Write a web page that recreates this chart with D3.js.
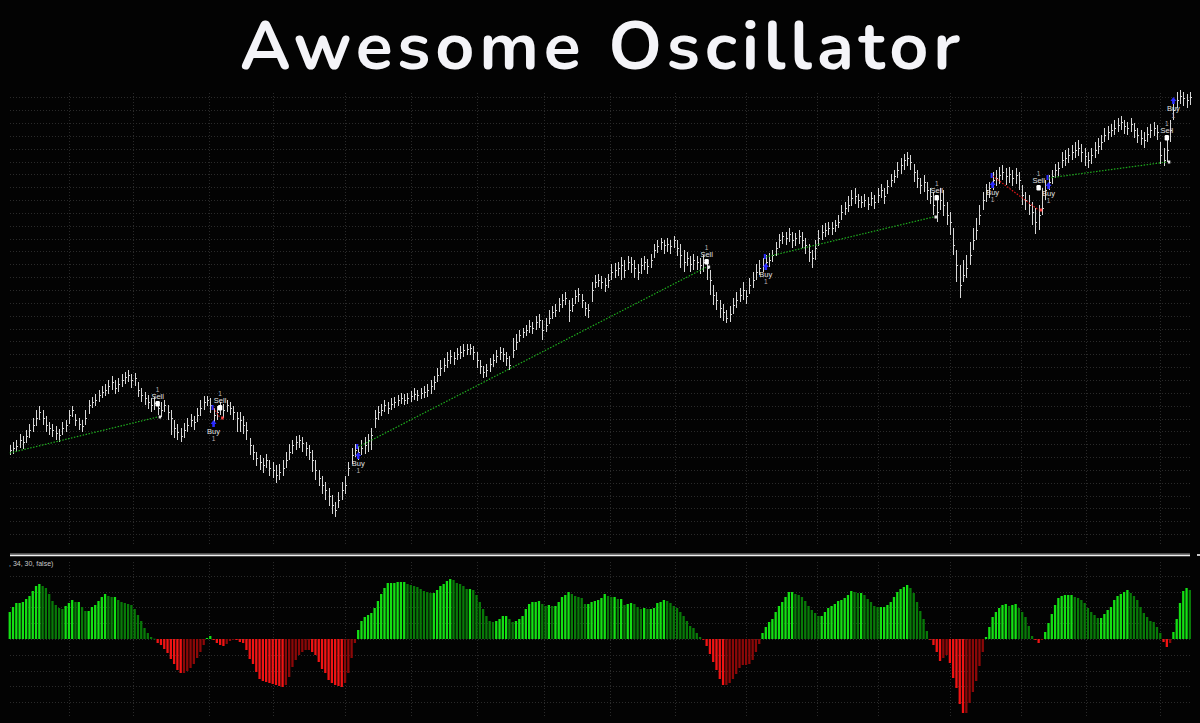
<!DOCTYPE html>
<html><head><meta charset="utf-8">
<script src="https://cdn.jsdelivr.net/npm/d3@7"></script>
<style>html,body{margin:0;background:#030303;overflow:hidden}svg{display:block}</style>
</head><body><svg id="c" width="1200" height="723"></svg>
<script>
// ---------- DATA ----------
const closes = [
1150,1152,1154,1160,1158,1164,1170,1175,1182,1188,
1182,1175,1172,1170,1167,1165,1172,1175,1185,1190,
1180,1176,1174,1182,1195,1198,1200,1205,1208,1210,
1214,1218,1212,1216,1220,1223,1225,1220,1222,1210,
1205,1202,1198,1195,1197,1192,1190,1195,1188,1182,
1172,1168,1164,1170,1175,1180,1178,1185,1192,1198,
1200,1195,1185,1188,1192,1190,1195,1192,1188,1182,
1180,1175,1170,1155,1148,1142,1138,1135,1140,1132,
1130,1125,1128,1132,1140,1148,1155,1158,1160,1157,
1152,1148,1140,1130,1122,1115,1110,1104,1095,1090,
1100,1110,1115,1132,1145,1150,1148,1152,1155,1160,
1165,1182,1188,1190,1195,1192,1196,1198,1200,1202,
1200,1202,1204,1206,1205,1207,1208,1210,1214,1218,
1225,1232,1235,1240,1244,1242,1246,1248,1250,1251,
1252,1248,1240,1234,1228,1230,1236,1240,1244,1248,
1246,1242,1235,1250,1258,1265,1268,1270,1274,1272,
1278,1280,1270,1275,1282,1288,1290,1296,1300,1302,
1290,1295,1304,1306,1300,1292,1290,1310,1318,1320,
1318,1315,1320,1328,1330,1332,1335,1330,1338,1336,
1332,1328,1335,1338,1334,1340,1350,1354,1358,1355,
1356,1354,1360,1352,1345,1338,1342,1336,1340,1338,
1335,1338,1332,1320,1305,1300,1292,1288,1282,1286,
1295,1300,1305,1310,1304,1315,1320,1328,1332,1335,
1338,1340,1345,1352,1360,1364,1362,1366,1360,1362,
1364,1360,1355,1348,1342,1352,1362,1368,1370,1372,
1372,1375,1378,1388,1392,1395,1402,1404,1400,1398,
1400,1396,1402,1398,1405,1410,1404,1414,1420,1424,
1430,1435,1440,1442,1438,1428,1422,1415,1418,1410,
1404,1395,1388,1400,1395,1385,1378,1355,1335,1315,
1325,1332,1345,1360,1370,1385,1400,1410,1412,1420,
1422,1425,1428,1424,1426,1422,1425,1420,1405,1400,
1395,1388,1378,1385,1392,1410,1418,1424,1430,1432,
1440,1442,1445,1448,1450,1452,1448,1444,1440,1445,
1450,1454,1458,1465,1468,1470,1472,1475,1478,1474,
1472,1476,1470,1465,1462,1460,1466,1470,1472,1468,
1445,1440,1450,1470,1490,1500,1504,1502,1500,1503];

const highs = [
1155,1158,1160,1166,1164,1170,1176,1182,1190,1194,
1190,1184,1178,1176,1174,1171,1178,1180,1190,1194,
1186,1182,1180,1190,1200,1203,1206,1210,1214,1216,
1220,1224,1220,1222,1226,1228,1230,1226,1227,1218,
1212,1208,1205,1202,1203,1199,1198,1200,1195,1190,
1180,1176,1172,1177,1182,1186,1184,1192,1200,1204,
1204,1202,1192,1194,1198,1196,1200,1198,1194,1188,
1188,1184,1178,1162,1155,1148,1145,1142,1146,1140,
1138,1135,1136,1140,1148,1156,1160,1164,1165,1163,
1158,1155,1150,1140,1130,1124,1118,1112,1105,1098,
1108,1118,1124,1138,1152,1156,1154,1160,1163,1166,
1172,1190,1194,1196,1200,1198,1202,1203,1205,1207,
1206,1207,1209,1212,1210,1212,1214,1216,1220,1224,
1232,1240,1242,1248,1250,1248,1252,1254,1256,1256,
1256,1254,1248,1240,1234,1236,1242,1246,1250,1253,
1252,1248,1244,1262,1266,1270,1272,1275,1280,1278,
1284,1286,1280,1282,1290,1294,1296,1302,1306,1308,
1300,1302,1310,1312,1306,1298,1296,1318,1325,1326,
1324,1322,1326,1336,1337,1338,1343,1340,1344,1343,
1340,1336,1342,1344,1341,1346,1356,1360,1362,1360,
1362,1360,1364,1360,1356,1350,1348,1344,1346,1344,
1342,1345,1340,1330,1315,1308,1300,1296,1290,1294,
1302,1308,1312,1318,1310,1322,1328,1336,1340,1342,
1345,1347,1350,1358,1366,1368,1368,1372,1368,1367,
1370,1368,1362,1356,1350,1360,1370,1375,1377,1378,
1378,1380,1385,1395,1398,1404,1410,1412,1406,1404,
1406,1403,1408,1405,1412,1416,1412,1420,1426,1430,
1438,1442,1446,1448,1445,1436,1430,1422,1425,1418,
1412,1408,1400,1412,1410,1398,1388,1372,1350,1335,
1340,1345,1358,1372,1382,1395,1408,1416,1418,1428,
1430,1433,1435,1432,1433,1430,1432,1428,1415,1408,
1405,1398,1392,1395,1412,1420,1425,1430,1436,1438,
1448,1450,1452,1455,1458,1460,1456,1452,1448,1452,
1458,1462,1465,1472,1474,1476,1480,1482,1484,1480,
1478,1482,1477,1472,1470,1468,1473,1476,1478,1475,
1458,1452,1462,1480,1500,1508,1510,1508,1506,1508];

const lows = [
1145,1146,1148,1152,1151,1157,1162,1168,1174,1180,
1175,1168,1165,1163,1160,1158,1165,1168,1176,1183,
1174,1170,1168,1175,1186,1192,1194,1198,1202,1204,
1206,1210,1206,1208,1213,1216,1218,1212,1214,1203,
1198,1195,1191,1188,1190,1185,1183,1188,1180,1165,
1162,1160,1158,1162,1168,1173,1170,1178,1184,1190,
1194,1187,1178,1180,1185,1182,1188,1185,1180,1168,
1168,1166,1160,1145,1140,1134,1130,1127,1132,1124,
1122,1117,1120,1124,1132,1140,1146,1150,1152,1148,
1144,1140,1128,1120,1114,1106,1100,1094,1086,1083,
1092,1100,1106,1124,1136,1143,1140,1145,1146,1148,
1150,1172,1180,1184,1188,1186,1190,1192,1194,1196,
1195,1196,1198,1200,1199,1201,1202,1203,1206,1210,
1218,1224,1228,1232,1236,1235,1240,1241,1243,1245,
1245,1240,1232,1226,1222,1223,1228,1233,1237,1240,
1238,1234,1230,1242,1250,1258,1262,1264,1267,1266,
1270,1272,1260,1268,1276,1281,1283,1288,1292,1295,
1278,1288,1296,1298,1292,1284,1282,1298,1312,1313,
1311,1308,1312,1320,1322,1324,1320,1322,1330,1327,
1322,1320,1326,1330,1326,1332,1342,1347,1350,1346,
1348,1346,1352,1344,1332,1328,1334,1328,1330,1330,
1326,1328,1320,1305,1295,1290,1282,1279,1277,1278,
1286,1292,1298,1300,1296,1306,1312,1320,1325,1328,
1330,1333,1338,1344,1352,1356,1355,1358,1352,1354,
1356,1352,1346,1338,1332,1340,1354,1360,1363,1365,
1365,1368,1372,1380,1385,1388,1394,1396,1392,1392,
1393,1390,1394,1391,1397,1402,1396,1406,1413,1417,
1422,1426,1430,1434,1430,1418,1412,1406,1408,1400,
1396,1385,1378,1390,1384,1375,1365,1345,1318,1302,
1318,1322,1335,1350,1360,1375,1390,1398,1402,1410,
1414,1416,1420,1415,1417,1414,1416,1410,1395,1390,
1385,1375,1366,1370,1385,1400,1410,1416,1422,1424,
1432,1434,1437,1440,1442,1444,1438,1434,1432,1436,
1442,1446,1450,1458,1460,1463,1465,1468,1470,1466,
1465,1468,1462,1457,1455,1452,1458,1462,1464,1460,
1436,1434,1438,1458,1480,1492,1496,1494,1492,1495];

const aoValues = [
27,32,36,36,37,40,43,48,53,55,
53,51,45,38,34,31,30,33,36,39,
37,37,32,28,28,32,34,38,42,45,
43,42,42,39,37,36,35,34,30,24,
18,11,6,2,0.3,-4,-6,-10,-14,-20,
-25,-31,-34,-34,-32,-29,-25,-19,-13,-6,
1,3,-1,-4,-6,-7,-5,-2,-0.5,-1,
-3,-4,-11,-20,-25,-33,-40,-42,-43,-44,-45,
-46,-47,-48,-46,-38,-28,-21,-16,-13,-11,
-11,-13,-16,-23,-30,-34,-41,-44,-46,-47,-48,
-44,-34,-19,-4,9,18,22,24,26,31,
38,45,51,56,56,56,57,
57,57,55,54,53,52,50,48,47,46,
46,49,53,55,58,60,59,56,55,53,
50,50,49,44,37,30,23,18,17,18,
20,23,23,20,17,18,20,23,30,35,
37,37,38,35,33,34,33,33,37,42,
44,47,45,43,42,41,35,35,37,38,
39,41,45,43,42,42,40,40,34,
35,36,35,32,30,31,30,30,31,36,
37,39,38,36,33,31,27,23,18,13,
11,6,2,-0.3,-7,-15,-23,-31,-40,-46,
-46,-44,-40,-35,-29,-26,-26,-25,-21,-13,
-5,6,12,17,20,27,33,37,42,47,
47,45,44,
42,38,33,29,26,23,23,27,31,
33,35,38,39,41,44,48,47,46,46,
44,40,37,33,32,32,32,34,37,42,
47,50,52,54,51,46,37,28,20,8,
-0.3,-6,-13,-22,-19,-16,-24,-39,-49,-65,
-74,-74,-64,-53,-42,-27,-13,2,12,22,27,
31,34,35,33,34,35,31,27,22,13,
3,-1,-4,-1,7,16,25,34,41,43,
44,44,44,42,41,39,36,31,27,24,
21,21,25,29,32,39,43,45,47,49,
46,43,39,32,26,22,18,17,12,6,
-3,-8,-4,7,20,36,48,51,49];

// month separators (bar index positions)
const monthStarts = [18,37.5,60.5,80,102,122,142,162.5,182.5,202.5,224,245.5,264,286,307.5,327.5,350];

// trades: entry/exit bar index and price, win = green line, loss = red line
const tradeEntryIdx   = [0,   62,   106,  230,  299,  316];
const tradeEntryPrice = [1147,1192, 1153, 1343, 1424, 1422];
const tradeExitIdx    = [45,  64,   212,  281,  313,  352];
const tradeExitPrice  = [1183,1182, 1333, 1383, 1390, 1438];
const tradeWin        = [true,false,true, true, false,true];

// signal labels
const sellIdx   = [45,  64,   212,  282,  313,  352];
const sellPrice = [1196,1192, 1338, 1402, 1412, 1462];
const buyIdx    = [62,  106,  230,  299,  316,  354];
const buyPrice  = [1176,1144, 1333, 1415, 1414, 1499];

const titleText = "Awesome Oscillator";
const paneLabel = ", 34, 30, false)";

// ---------- CHART ----------
const svg = d3.select("#c");
const W = 1200, H = 723;
const N = closes.length;

svg.append("rect").attr("width", W).attr("height", H).attr("fill", "#030303");

const x = d3.scaleBand().domain(d3.range(N)).range([8.6, 1191]).paddingInner(0.3);
const xc = i => x(Math.round(i)) + x.bandwidth() / 2 + (i - Math.round(i)) * x.step();
const yP = d3.scaleLinear().domain([1055, 1510]).range([545, 90]);
const yA = d3.scaleLinear().domain([-80, 70]).range([719, 569]);

// grid
const grid = svg.append("g").attr("stroke", "#2a2a2a").attr("stroke-width", 1)
  .attr("stroke-dasharray", "1,2");
const pGrid = d3.range(1502.7, 1062, -12.85);
grid.selectAll(".hp").data(pGrid).join("line")
  .attr("x1", 10).attr("x2", 1190)
  .attr("y1", d => Math.round(yP(d)) + 0.5).attr("y2", d => Math.round(yP(d)) + 0.5);
const aGrid = d3.range(-63.2, 64, 15.8);
grid.selectAll(".ha").data(aGrid).join("line")
  .attr("x1", 10).attr("x2", 1190)
  .attr("y1", d => Math.round(yA(d)) + 0.5).attr("y2", d => Math.round(yA(d)) + 0.5);
grid.selectAll(".vp").data(monthStarts).join("line")
  .attr("x1", d => Math.round(xc(d)) + 0.5).attr("x2", d => Math.round(xc(d)) + 0.5)
  .attr("y1", 93).attr("y2", 545);
grid.selectAll(".va").data(monthStarts).join("line")
  .attr("x1", d => Math.round(xc(d)) + 0.5).attr("x2", d => Math.round(xc(d)) + 0.5)
  .attr("y1", 562).attr("y2", 716);

// title
svg.append("text").text(titleText)
  .attr("x", 240).attr("y", 69)
  .attr("font-family", "Nunito, Lato, 'Open Sans', sans-serif")
  .attr("font-weight", 700).attr("font-size", 68)
  .attr("textLength", 720).attr("lengthAdjust", "spacing")
  .attr("fill", "#f4f4f8");

// price bars
const bars = svg.append("g").attr("stroke", "#d6d6d6").attr("stroke-width", 1);
bars.selectAll(".hl").data(d3.range(N)).join("line")
  .attr("x1", i => Math.round(xc(i)) + 0.5).attr("x2", i => Math.round(xc(i)) + 0.5)
  .attr("y1", i => yP(highs[i])).attr("y2", i => yP(lows[i]));
bars.selectAll(".cl").data(d3.range(N)).join("line")
  .attr("x1", i => Math.round(xc(i)) + 1).attr("x2", i => Math.round(xc(i)) + 2)
  .attr("y1", i => Math.round(yP(closes[i])) + 0.5).attr("y2", i => Math.round(yP(closes[i])) + 0.5);

// trade lines
const tg = svg.append("g");
tg.selectAll("line").data(d3.range(tradeEntryIdx.length)).join("line")
  .attr("x1", k => xc(tradeEntryIdx[k])).attr("y1", k => yP(tradeEntryPrice[k]))
  .attr("x2", k => xc(tradeExitIdx[k])).attr("y2", k => yP(tradeExitPrice[k]))
  .attr("stroke", k => tradeWin[k] ? "#1fae1f" : "#e01818")
  .attr("stroke-width", 1.2).attr("stroke-dasharray", "1.5,1.5");
tg.selectAll(".ent").data(d3.range(tradeEntryIdx.length).filter(k => k > 0)).join("rect")
  .attr("x", k => xc(tradeEntryIdx[k]) - 2).attr("y", k => yP(tradeEntryPrice[k]) - 3)
  .attr("width", 2).attr("height", 5).attr("fill", "#2a2aff");
tg.selectAll(".ext").data(d3.range(tradeEntryIdx.length)).join("rect")
  .attr("x", k => xc(tradeExitIdx[k]) + 1).attr("y", k => yP(tradeExitPrice[k]) - 1.5)
  .attr("width", 2.5).attr("height", 3)
  .attr("fill", k => tradeWin[k] ? "#e8e8e8" : "#ff4040");

// sell signals
const lblFont = "'Liberation Sans', Arial, sans-serif";
const sg = svg.append("g");
sellIdx.forEach((si, k) => {
  const cx = xc(si), cy = yP(sellPrice[k]);
  sg.append("rect").attr("x", cx - 2.2).attr("y", cy - 3).attr("width", 4.4).attr("height", 5.5)
    .attr("rx", 1.2).attr("fill", "#ffffff");
  sg.append("text").text("Sell").attr("x", cx).attr("y", cy - 5).attr("text-anchor", "middle")
    .attr("font-family", lblFont).attr("font-size", 7.5).attr("fill", "#e2e2e2");
  sg.append("text").text("1").attr("x", cx).attr("y", cy - 12.5).attr("text-anchor", "middle")
    .attr("font-family", lblFont).attr("font-size", 6.5).attr("fill", "#bdbdbd");
});
// buy signals
buyIdx.forEach((bi, k) => {
  const cx = xc(bi), cy = yP(buyPrice[k]);
  sg.append("path")
    .attr("d", `M${cx},${cy - 4} L${cx + 3},${cy} L${cx + 1.3},${cy} L${cx + 1.3},${cy + 3} L${cx - 1.3},${cy + 3} L${cx - 1.3},${cy} L${cx - 3},${cy} Z`)
    .attr("fill", "#2a2aff");
  sg.append("text").text("Buy").attr("x", cx).attr("y", cy + 10).attr("text-anchor", "middle")
    .attr("font-family", lblFont).attr("font-size", 7.5).attr("fill", "#e2e2e2");
  sg.append("text").text("1").attr("x", cx).attr("y", cy + 16.5).attr("text-anchor", "middle")
    .attr("font-family", lblFont).attr("font-size", 6.5).attr("fill", "#bdb0b0");
});

// separator
svg.append("line").attr("x1", 10).attr("x2", 1190).attr("y1", 554).attr("y2", 554)
  .attr("stroke", "#9a9a9a").attr("stroke-width", 1);
svg.append("line").attr("x1", 10).attr("x2", 1190).attr("y1", 555.5).attr("y2", 555.5)
  .attr("stroke", "#f0f0f0").attr("stroke-width", 1.5);
svg.append("line").attr("x1", 1197).attr("x2", 1200).attr("y1", 555).attr("y2", 555)
  .attr("stroke", "#c8c8c8").attr("stroke-width", 2);

svg.append("text").text(paneLabel).attr("x", 9).attr("y", 566)
  .attr("font-family", lblFont).attr("font-size", 7).attr("fill", "#c8c8c8");

// AO histogram
const aoColor = i => {
  const v = aoValues[i], prev = i > 0 ? aoValues[i - 1] : v - 1;
  const up = v >= prev;
  if (v >= 0) return up ? "#14e014" : "#087a08";
  return up ? "#8c0808" : "#f01414";
};
svg.append("g").selectAll("rect").data(d3.range(aoValues.length)).join("rect")
  .attr("x", i => x(i)).attr("width", x.bandwidth())
  .attr("y", i => Math.min(yA(aoValues[i]), yA(0)))
  .attr("height", i => Math.max(0.8, Math.abs(yA(aoValues[i]) - yA(0))))
  .attr("fill", aoColor);
</script>
</body></html>
